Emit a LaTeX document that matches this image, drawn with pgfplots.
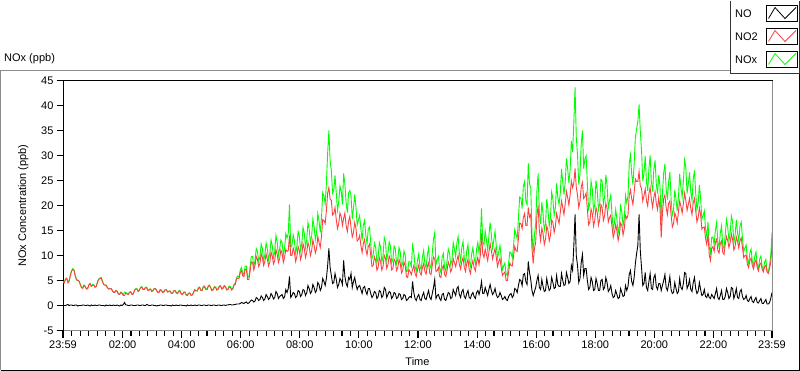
\documentclass[border=0pt]{standalone}
\usepackage{pgfplots}
\usepackage{pgfplotstable}
\pgfplotsset{compat=1.18}
\usepackage{fontspec}
\setmainfont{Liberation Sans}
\definecolor{nored}{RGB}{255,64,64}
\definecolor{nogreen}{RGB}{0,255,0}
\definecolor{framegray}{RGB}{140,140,140}

\pgfplotstableread{
t no no2 nox
0 0.1 4.6 4.8
2.5 0.0 4.5 4.6
5 0.0 5.2 5.3
7.5 0.1 5.4 5.5
10 0.2 4.5 4.9
12.5 0.0 4.9 4.9
15 0.1 6.0 6.2
17.5 0.1 6.9 7.0
20 0.0 7.2 7.4
22.5 0.0 7.0 7.1
25 0.1 5.8 6.0
27.5 0.1 5.1 5.2
30 -0.1 5.0 5.1
32.5 0.0 4.9 4.9
35 0.0 4.2 4.3
37.5 0.0 3.6 3.6
40 0.1 3.4 3.6
42.5 0.1 4.0 4.1
45 0.0 3.8 3.9
47.5 0.0 3.3 3.3
50 0.1 3.3 3.5
52.5 0.0 4.1 4.1
55 -0.1 4.4 4.4
57.5 0.1 3.8 3.9
60 0.0 4.0 4.2
62.5 0.0 4.1 4.1
65 0.1 3.6 3.8
67.5 0.0 3.8 3.8
70 0.0 4.6 4.8
72.5 0.1 5.2 5.3
75 0.1 5.4 5.5
77.5 0.0 5.5 5.6
80 0.0 4.8 5.0
82.5 0.0 4.2 4.2
85 -0.1 4.1 4.1
87.5 0.1 4.0 4.1
90 0.0 3.6 3.7
92.5 0.0 3.3 3.3
95 0.1 3.3 3.4
97.5 0.0 3.4 3.4
100 0.0 3.0 3.1
102.5 0.1 2.6 2.7
105 0.0 2.6 2.7
107.5 0.0 3.0 3.0
110 0.1 2.8 2.9
112.5 0.0 2.3 2.3
115 -0.1 2.2 2.3
117.5 0.1 2.6 2.7
120 0.0 2.4 2.5
122.5 0.2 2.0 2.2
125 0.6 2.0 2.7
127.5 0.1 2.5 2.6
130 0.1 2.3 2.4
132.5 0.0 2.2 2.2
135 0.0 2.6 2.7
137.5 0.1 2.7 2.8
140 0.1 2.2 2.3
142.5 0.0 2.3 2.3
145 0.0 2.9 3.1
147.5 0.0 3.3 3.3
150 0.1 3.3 3.4
152.5 0.1 2.8 2.9
155 0.0 3.0 3.1
157.5 0.0 3.6 3.6
160 0.1 3.6 3.8
162.5 0.1 3.2 3.3
165 0.0 3.2 3.3
167.5 0.0 3.6 3.6
170 0.2 3.5 3.7
172.5 0.1 3.0 3.1
175 0.0 3.1 3.2
177.5 0.0 3.3 3.3
180 0.1 2.8 3.0
182.5 0.1 2.9 3.0
185 0.0 3.3 3.4
187.5 0.0 3.4 3.4
190 -0.1 3.0 3.1
192.5 0.0 2.6 2.6
195 0.0 2.6 2.8
197.5 0.1 3.1 3.2
200 0.1 3.0 3.1
202.5 0.0 2.6 2.6
205 0.0 2.7 2.9
207.5 0.1 3.1 3.2
210 0.1 3.1 3.2
212.5 0.0 2.7 2.7
215 0.0 2.8 2.9
217.5 0.0 2.9 2.9
220 -0.1 2.4 2.5
222.5 0.1 2.4 2.5
225 0.0 2.9 3.0
227.5 0.0 3.0 3.0
230 0.1 2.5 2.7
232.5 0.0 2.4 2.4
235 0.0 2.8 2.9
237.5 0.1 2.9 3.0
240 0.1 2.3 2.4
242.5 0.0 2.2 2.2
245 0.0 2.6 2.7
247.5 0.0 2.7 2.7
250 -0.1 2.1 2.2
252.5 0.1 2.0 2.1
255 0.0 2.4 2.5
257.5 0.0 2.5 2.5
260 0.1 2.0 2.1
262.5 0.0 2.1 2.1
265 0.0 2.5 2.7
267.5 0.1 3.1 3.2
270 0.0 2.9 3.0
272.5 0.0 2.9 2.9
275 0.1 3.4 3.6
277.5 0.1 3.6 3.7
280 0.0 3.0 3.1
282.5 0.0 3.0 3.0
285 0.1 3.6 3.9
287.5 0.1 3.8 3.9
290 0.0 3.2 3.4
292.5 0.0 3.2 3.2
295 0.1 3.8 4.0
297.5 0.1 4.0 4.1
300 0.0 3.5 3.6
302.5 0.0 3.0 3.0
305 0.1 3.1 3.3
307.5 0.1 3.7 3.8
310 0.0 3.6 3.7
312.5 0.0 3.1 3.1
315 0.1 3.2 3.4
317.5 0.1 3.8 3.9
320 0.0 3.8 4.0
322.5 0.0 3.3 3.3
325 0.1 3.4 3.6
327.5 0.1 3.9 4.0
330 0.0 3.7 3.8
332.5 0.1 3.1 3.2
335 0.1 3.2 3.3
337.5 0.2 3.7 3.9
340 0.2 3.6 3.8
342.5 0.1 3.1 3.2
345 0.1 3.3 3.5
347.5 0.2 4.1 4.3
350 0.2 4.2 4.5
352.5 0.3 5.3 5.6
355 0.3 5.5 5.9
357.5 0.3 5.4 5.7
360 0.4 6.6 7.1
362.5 0.6 7.0 7.6
365 0.5 5.9 6.5
367.5 0.4 5.8 6.2
370 0.6 7.2 7.9
372.5 0.7 7.2 7.9
375 0.4 5.2 5.7
377.5 0.5 5.2 5.7
380 0.8 6.8 7.7
382.5 1.1 8.7 9.8
385 1.0 8.6 9.8
387.5 0.7 7.1 7.8
390 0.9 8.0 9.0
392.5 1.6 9.8 11.4
395 1.4 9.2 10.8
397.5 1.0 7.8 8.8
400 1.2 8.4 9.8
402.5 1.9 10.4 12.3
405 1.6 9.6 11.4
407.5 1.0 8.0 9.0
410 1.3 8.8 10.2
412.5 2.2 10.3 12.5
415 1.8 9.3 11.3
417.5 1.2 7.9 9.1
420 1.5 8.6 10.4
422.5 2.4 10.7 13.1
425 2.0 9.9 12.0
427.5 1.3 8.3 9.6
430 1.6 9.0 10.8
432.5 2.8 11.2 14.0
435 2.4 10.2 12.7
437.5 1.4 8.6 10.0
440 1.8 9.4 11.3
442.5 2.0 11.1 13.1
445 2.2 10.4 12.6
447.5 1.4 8.6 10.0
450 1.7 9.6 11.4
452.5 3.2 11.2 14.4
455 2.6 10.8 13.5
457.5 3.4 11.0 14.4
460 5.8 14.0 20.2
462.5 1.6 10.0 11.6
465 2.0 10.0 12.0
467.5 2.6 11.5 14.1
470 2.4 10.6 13.0
472.5 1.6 8.8 10.4
475 1.9 9.8 11.8
477.5 3.0 11.8 14.8
480 2.8 11.0 13.9
482.5 1.8 9.2 11.0
485 2.2 10.2 12.5
487.5 3.2 12.4 15.6
490 3.0 11.4 14.5
492.5 2.0 9.6 11.6
495 2.5 10.6 13.2
497.5 4.0 12.6 16.6
500 3.4 11.8 15.3
502.5 2.4 10.0 12.4
505 2.8 11.0 13.9
507.5 4.2 13.1 17.3
510 3.6 12.0 15.8
512.5 2.6 10.5 13.1
515 3.0 11.4 14.5
517.5 4.6 13.8 18.4
520 4.2 12.6 16.9
522.5 3.0 11.6 14.6
525 3.6 13.8 17.5
527.5 5.4 17.2 22.6
530 4.8 17.0 21.9
532.5 4.0 16.4 20.4
535 5.4 19.0 24.5
537.5 8.0 22.5 30.5
540 11.4 23.6 35.0
542.5 7.6 21.3 28.9
545 6.0 21.0 27.0
547.5 4.4 18.1 22.5
550 4.6 18.4 23.1
552.5 6.4 19.6 26.0
555 5.2 17.2 22.5
557.5 3.6 15.4 19.0
560 4.2 16.4 20.7
562.5 5.4 18.5 23.9
565 5.0 17.8 22.9
567.5 4.2 16.0 20.2
570 9.0 17.4 26.4
572.5 5.8 18.5 24.3
575 4.4 16.0 20.5
577.5 3.8 14.8 18.6
580 5.6 16.8 22.5
582.5 5.2 17.8 23.0
585 6.4 15.6 22.0
587.5 3.6 13.7 17.3
590 4.8 14.6 19.5
592.5 5.6 16.6 22.2
595 4.2 15.4 19.7
597.5 3.2 12.9 16.1
600 3.8 13.2 17.1
602.5 4.0 14.0 18.0
605 3.2 12.0 15.3
607.5 2.4 10.6 13.0
610 3.6 12.4 16.1
612.5 3.8 13.2 17.0
615 2.8 11.2 14.1
617.5 2.2 10.1 12.3
620 3.4 11.8 15.3
622.5 3.4 12.3 15.7
625 2.4 10.0 12.5
627.5 1.6 7.8 9.4
630 2.0 8.0 10.1
632.5 2.8 9.7 12.5
635 2.6 9.0 11.7
637.5 1.4 7.1 8.5
640 1.8 7.6 9.5
642.5 3.0 9.6 12.6
645 2.8 8.8 11.7
647.5 1.6 7.1 8.7
650 2.0 7.8 9.9
652.5 3.6 10.0 13.6
655 3.2 9.4 12.7
657.5 1.6 7.4 9.0
660 2.2 8.2 10.5
662.5 2.8 9.9 12.7
665 2.6 9.2 11.9
667.5 1.4 7.1 8.5
670 1.8 7.4 9.3
672.5 2.6 9.3 11.9
675 2.4 8.8 11.3
677.5 1.4 7.0 8.4
680 1.6 7.6 9.3
682.5 2.4 9.2 11.6
685 2.2 8.4 10.7
687.5 1.2 6.5 7.7
690 1.4 7.0 8.5
692.5 2.2 8.7 10.9
695 2.0 8.0 10.1
697.5 1.0 5.8 6.8
700 1.2 5.6 6.9
702.5 1.6 7.2 8.8
705 1.8 6.8 8.7
707.5 1.6 6.2 7.8
710 4.8 7.2 12.0
712.5 2.6 8.0 10.6
715 1.4 6.4 7.9
717.5 1.0 5.8 6.8
720 1.8 7.2 9.1
722.5 2.2 8.1 10.3
725 1.2 6.6 7.9
727.5 1.0 6.1 7.1
730 2.0 7.6 9.7
732.5 2.6 8.4 11.0
735 1.4 6.8 8.3
737.5 1.2 6.3 7.5
740 2.2 7.8 10.1
742.5 3.0 8.5 11.5
745 1.6 6.4 8.1
747.5 1.2 6.2 7.4
750 2.4 8.0 10.5
752.5 3.6 9.7 13.3
755 5.2 9.4 14.6
757.5 1.4 6.8 8.2
760 2.0 7.0 9.1
762.5 2.2 7.6 9.8
765 1.4 5.8 7.3
767.5 1.0 5.6 6.6
770 2.2 7.4 9.7
772.5 2.4 8.0 10.4
775 1.2 6.2 7.5
777.5 1.0 5.8 6.8
780 1.8 7.0 8.9
782.5 2.6 8.7 11.3
785 2.4 8.0 10.5
787.5 1.4 6.7 8.1
790 1.6 7.4 9.1
792.5 3.2 9.4 12.6
795 2.6 8.6 11.3
797.5 2.0 7.8 9.8
800 3.4 9.0 12.5
802.5 3.8 10.0 13.8
805 2.2 8.2 10.5
807.5 1.6 7.3 8.9
810 2.8 8.8 11.7
812.5 3.2 9.6 12.8
815 1.8 7.6 9.5
817.5 1.4 6.8 8.2
820 2.4 8.4 10.9
822.5 3.0 9.2 12.2
825 1.6 7.2 8.9
827.5 1.4 6.4 7.8
830 2.2 8.0 10.3
832.5 2.6 9.0 11.6
835 1.8 7.6 9.5
837.5 1.4 6.9 8.3
840 2.6 8.6 11.3
842.5 3.0 9.6 12.6
845 2.2 8.2 10.5
847.5 3.2 9.9 13.1
850 4.8 14.4 19.4
852.5 2.4 10.4 12.8
855 2.4 9.6 12.1
857.5 3.6 11.3 14.9
860 2.8 10.2 13.1
862.5 2.0 9.0 11.0
865 3.2 10.6 13.9
867.5 4.2 12.4 16.6
870 3.0 11.0 14.1
872.5 2.2 9.3 11.5
875 2.6 10.4 13.1
877.5 3.4 11.4 14.8
880 2.2 9.6 11.9
882.5 1.6 7.8 9.4
885 1.8 8.8 10.7
887.5 2.6 9.4 12.0
890 2.0 7.6 9.7
892.5 1.2 6.0 7.2
895 1.4 6.4 7.9
897.5 1.8 6.7 8.5
900 1.2 5.0 6.3
902.5 1.0 5.0 6.0
905 1.8 6.6 8.5
907.5 2.2 8.5 10.7
910 2.4 8.0 10.5
912.5 1.6 7.9 9.5
915 2.0 9.8 11.9
917.5 3.4 11.8 15.2
920 3.2 11.0 14.3
922.5 2.6 10.8 13.4
925 4.0 13.4 17.5
927.5 5.2 16.5 21.7
930 5.0 16.4 21.5
932.5 4.0 15.4 19.4
935 6.2 17.6 23.9
937.5 6.4 18.4 24.8
940 4.8 16.0 20.9
942.5 4.2 16.0 20.2
945 8.8 19.6 28.4
947.5 6.6 17.7 24.3
950 5.2 18.2 23.5
952.5 3.0 11.3 14.3
955 2.0 8.4 10.5
957.5 2.8 11.3 14.1
960 3.6 12.6 16.3
962.5 5.0 17.9 22.9
965 6.0 20.0 26.4
967.5 3.6 14.9 18.5
970 3.2 13.0 16.3
972.5 5.2 15.5 20.7
975 3.8 14.4 18.3
977.5 2.8 12.2 15.0
980 3.0 13.2 16.3
982.5 5.4 15.9 21.3
985 4.0 15.0 19.1
987.5 3.0 12.9 15.9
990 3.4 14.0 17.5
992.5 5.6 17.1 22.7
995 4.6 16.6 21.3
997.5 3.4 14.6 18.0
1000 3.6 15.8 19.5
1002.5 6.0 18.4 24.4
1005 4.2 17.4 21.7
1007.5 3.8 16.4 20.2
1010 3.8 18.6 22.5
1012.5 6.4 20.9 27.3
1015 5.0 19.6 24.7
1017.5 4.0 18.2 22.2
1020 4.2 20.4 24.7
1022.5 6.6 22.8 29.4
1025 5.6 21.6 27.3
1027.5 4.4 20.1 24.5
1030 4.8 22.2 27.1
1032.5 8.0 24.9 32.9
1035 7.0 23.6 30.7
1037.5 12.0 24.5 36.5
1040 18.2 27.4 43.6
1042.5 10.0 23.7 33.7
1045 8.0 22.0 30.1
1047.5 4.6 19.6 24.2
1050 5.4 20.8 26.3
1052.5 8.6 23.7 32.3
1055 10.2 24.6 35.0
1057.5 6.0 21.4 27.4
1060 7.4 21.8 29.3
1062.5 7.4 22.5 29.9
1065 5.0 19.2 24.3
1067.5 3.2 16.1 19.3
1070 3.6 16.6 20.3
1072.5 5.6 19.3 24.9
1075 4.8 18.4 23.3
1077.5 3.0 15.9 18.9
1080 3.2 17.0 20.3
1082.5 5.4 19.6 25.0
1085 4.4 18.6 23.1
1087.5 3.0 16.1 19.1
1090 3.0 17.2 20.3
1092.5 5.0 20.2 25.2
1095 5.2 19.6 24.9
1097.5 3.2 17.0 20.2
1100 3.6 18.0 21.7
1102.5 5.6 20.5 26.1
1105 4.6 19.4 24.1
1107.5 2.8 16.7 19.5
1110 3.2 17.6 20.9
1112.5 4.0 18.1 22.1
1115 2.4 15.8 18.3
1117.5 1.6 13.6 15.2
1120 1.8 14.6 16.5
1122.5 3.0 16.2 19.2
1125 2.2 15.0 17.3
1127.5 1.4 13.0 14.4
1130 1.6 14.2 15.9
1132.5 3.4 16.5 19.9
1135 2.6 16.0 18.7
1137.5 1.8 14.1 15.9
1140 2.0 15.4 17.5
1142.5 4.0 18.0 22.0
1145 3.0 17.4 20.5
1147.5 3.8 18.1 21.9
1150 6.2 22.0 28.3
1152.5 7.0 23.1 30.1
1155 4.8 21.4 26.3
1157.5 4.0 20.2 24.2
1160 5.6 22.6 28.3
1162.5 8.4 25.3 33.7
1165 10.4 24.8 35.3
1167.5 12.0 24.8 36.8
1170 18.2 26.8 40.2
1172.5 11.0 23.9 34.9
1175 7.6 23.4 31.1
1177.5 4.0 20.9 24.9
1180 4.4 22.0 26.5
1182.5 6.6 23.3 29.9
1185 3.6 21.0 24.7
1187.5 3.0 19.9 22.9
1190 4.8 22.4 27.3
1192.5 6.4 23.6 30.0
1195 3.4 21.2 24.7
1197.5 3.2 19.6 22.8
1200 5.6 21.6 27.3
1202.5 6.2 22.8 29.0
1205 3.8 20.4 24.3
1207.5 3.2 19.2 22.4
1210 4.4 21.6 26.1
1212.5 4.4 19.4 23.8
1215 3.0 13.6 16.7
1217.5 4.0 18.5 22.5
1220 5.0 21.4 26.5
1222.5 6.2 22.1 28.3
1225 3.6 19.6 23.3
1227.5 3.0 18.2 21.2
1230 4.2 20.4 24.7
1232.5 5.8 20.9 26.7
1235 3.2 18.2 21.5
1237.5 2.4 15.7 18.1
1240 2.6 16.4 19.1
1242.5 4.6 18.5 23.1
1245 3.4 17.8 21.3
1247.5 2.4 16.5 18.9
1250 2.8 18.8 21.7
1252.5 5.4 20.9 26.3
1255 3.6 19.8 23.5
1257.5 3.2 18.5 21.7
1260 4.4 20.4 24.9
1262.5 6.6 22.5 29.1
1265 6.4 21.0 27.5
1267.5 3.4 19.0 22.4
1270 4.0 20.2 24.3
1272.5 5.2 21.4 26.6
1275 3.2 19.4 22.7
1277.5 2.8 18.2 21.0
1280 4.6 20.6 25.3
1282.5 5.6 21.4 27.0
1285 3.4 19.0 22.5
1287.5 2.4 16.7 19.1
1290 2.8 17.6 20.5
1292.5 4.6 19.5 24.1
1295 3.2 18.2 21.5
1297.5 2.0 15.3 17.3
1300 2.2 15.6 17.9
1302.5 3.2 15.7 18.9
1305 1.8 13.4 15.3
1307.5 1.6 12.2 13.8
1310 2.4 14.2 16.7
1312.5 1.6 10.2 11.8
1315 1.4 9.0 10.5
1317.5 2.2 11.4 13.6
1320 1.8 11.8 13.7
1322.5 1.4 10.8 12.2
1325 2.4 12.6 15.1
1327.5 3.4 13.2 16.6
1330 1.6 11.0 12.7
1332.5 1.2 10.5 11.7
1335 2.0 12.4 14.5
1337.5 3.0 12.9 15.9
1340 1.2 10.6 11.9
1342.5 1.2 10.2 11.4
1345 1.8 12.2 14.1
1347.5 3.4 13.8 17.2
1350 2.6 13.0 15.7
1352.5 1.4 11.6 13.0
1355 1.8 12.6 14.5
1357.5 3.6 14.3 17.9
1360 3.4 13.2 16.7
1362.5 1.4 11.1 12.5
1365 2.2 11.8 14.1
1367.5 3.4 13.7 17.1
1370 1.6 12.8 14.5
1372.5 1.4 11.5 12.9
1375 2.8 13.0 15.9
1377.5 3.2 13.5 16.7
1380 1.8 11.6 13.5
1382.5 1.2 9.6 10.8
1385 1.4 10.0 11.5
1387.5 2.0 10.1 12.1
1390 1.0 8.2 9.3
1392.5 0.8 7.6 8.4
1395 1.4 9.0 10.5
1397.5 1.8 9.5 11.3
1400 0.8 8.0 8.9
1402.5 0.6 7.3 7.9
1405 1.2 8.6 9.9
1407.5 1.6 9.1 10.7
1410 0.6 7.6 8.3
1412.5 0.5 6.9 7.4
1415 1.0 8.2 9.3
1417.5 1.4 8.5 9.9
1420 0.4 7.2 7.7
1422.5 0.4 6.7 7.1
1425 0.8 7.8 8.7
1427.5 1.2 8.0 9.2
1430 0.3 6.6 7.0
1432.5 0.3 6.4 6.7
1435 0.6 7.4 8.1
1437.5 1.4 8.7 10.1
1440 2.6 12.0 14.6
}\noxdata

\begin{document}
\begin{tikzpicture}[font=\fontsize{11}{13}\selectfont]
\begin{scope}[x=1pt,y=1pt]
\useasboundingbox (0,0) rectangle (800,-369);
% outer panel frame
\draw[framegray, line width=1pt] (0.5,-368.5) -- (0.5,-68.5) -- (730,-68.5);
\draw[black, line width=1pt] (1,-368.5) -- (799,-368.5) -- (799,-72);
\node[anchor=west, inner sep=0pt] at (4,-57) {NOx (ppb)};
\end{scope}

\begin{axis}[
  at={(63pt,-329pt)}, anchor=south west,
  scale only axis, width=709pt, height=250pt,
  xmin=0, xmax=1440, ymin=-5, ymax=45,
  axis line style={black, line width=1pt},
  xtick={0,121,241,361,481,601,721,841,961,1081,1201,1321,1440},
  xticklabels={23:59,02:00,04:00,06:00,08:00,10:00,12:00,14:00,16:00,18:00,20:00,22:00,23:59},
  minor x tick num=6,
  ytick={-5,0,...,45},
  tick pos=left,
  tick align=outside,
  major tick length=6pt, minor tick length=4pt,
  every tick/.append style={black, line width=1.1pt},
  /pgf/number format/assume math mode=true,
  ticklabel style={font=\fontsize{11}{13}\selectfont},
  xticklabel style={yshift=-1pt},
  xlabel={Time}, ylabel={NOx Concentration (ppb)},
  every axis x label/.style={at={(axis description cs:0.5,-0.124)}, anchor=center, font=\fontsize{11}{13}\selectfont},
  every axis y label/.style={at={(axis description cs:-0.056,0.5)}, rotate=90, anchor=center, font=\fontsize{11}{13}\selectfont},
  clip=true,
]
\addplot[nogreen, line width=0.9pt] table[x=t, y=nox] {\noxdata};
\addplot[nored, line width=0.9pt] table[x=t, y=no2] {\noxdata};
\addplot[black, line width=0.9pt] table[x=t, y=no] {\noxdata};
\end{axis}

\begin{scope}[x=1pt,y=1pt]
% plot frame (sunken look): right and bottom in grey
\draw[framegray, line width=1pt] (772,-79) -- (772,-329) -- (63.5,-329);
% tick marks of the axes
\foreach \v in {-5,0,...,45}
  \draw[black, line width=1.1pt] (56.5,{-329+(\v+5)*5}) -- (63,{-329+(\v+5)*5});
\foreach \t in {0,121,241,361,481,601,721,841,961,1081,1201,1321,1440}
  \draw[black, line width=1.1pt] ({63+\t*0.492361},-329.5) -- ++(0,-7);
\foreach \i in {0,...,11}{
  \foreach \j in {1,...,6}{
    \draw[black, line width=1.1pt] ({63+(1+120*\i+\j*17.142857)*0.492361},-329.5) -- ++(0,-4.5);
  }
}
% legend
\draw[black!80, fill=white, line width=1pt] (730.5,1) -- (730.5,-72) -- (799.5,-72) -- (799.5,1);
\foreach \yy/\lab/\col in {-12/NO/black, -35/NO2/nored, -58/NOx/nogreen}{
  \node[anchor=west, inner sep=0pt] at (735,\yy) {\lab};
  \draw[black, line width=0.8pt] (766.5,\yy+8) rectangle (797.5,\yy-7.5);
  \draw[\col, line width=0.8pt] (768.5,\yy-5) -- (775,\yy+6) -- (785,\yy-5) -- (796,\yy+6);
}
\end{scope}
\end{tikzpicture}
\end{document}
